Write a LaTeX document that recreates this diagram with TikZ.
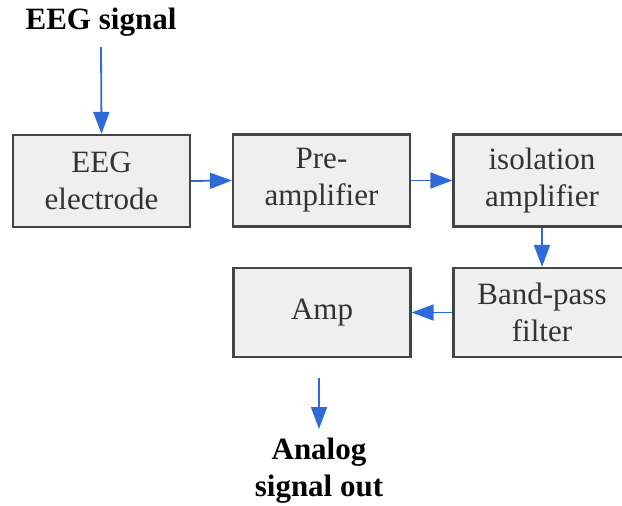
\documentclass[tikz,border=0pt]{standalone}
\usepackage{fontspec}
\setmainfont{LiberationSerif}[Extension=.ttf,UprightFont=*-Regular,BoldFont=*-Bold,ItalicFont=*-Italic,BoldItalicFont=*-BoldItalic]
\usetikzlibrary{arrows.meta}
\definecolor{arrblue}{HTML}{2E6BD6}
\definecolor{boxfill}{HTML}{EFEFEF}
\definecolor{boxdraw}{HTML}{454545}
\definecolor{txt}{HTML}{333333}
\begin{document}
\begin{tikzpicture}[x=1pt,y=1pt,
  blk/.style={draw=boxdraw,fill=boxfill,line width=2.2pt,minimum width=177pt,minimum height=92pt,inner sep=0pt,align=center,text=txt,font=\fontsize{31}{37}\selectfont},
  lbl/.style={align=center,font=\bfseries\fontsize{31}{37}\selectfont,text=black},
  arr/.style={draw=arrblue,line width=1.8pt,-{Triangle[length=22pt,width=16pt]},arrblue}]
\useasboundingbox (0,0) rectangle (622,-506);
\clip (0,0) rectangle (622,-506);
\node[lbl] (sig) at (101,-22) {EEG signal};
\node[blk] (ele) at (101.5,-181) {EEG\\electrode};
\node[blk] (pre) at (321.5,-180.5) {Pre-\\amplifier};
\node[blk] (iso) at (542,-180.5) {isolation\\amplifier};
\node[blk,minimum height=89pt] (bp) at (542,-312.5) {Band-pass\\filter};
\node[blk,minimum height=89pt] (amp) at (322,-312.5) {Amp};
\node[lbl] (out) at (319,-471) {Analog\\signal out};
\coordinate (s1) at (101,-47);
\coordinate (o1) at (319,-378);
\coordinate (o2) at (319,-429);
\draw[arr] (s1) -- (ele.north);
\draw[arr] (ele.east) -- (pre.west);
\draw[arr] (pre.east) -- (iso.west);
\draw[arr] (iso.south) -- (bp.north);
\draw[arr] (bp.west) -- (amp.east);
\draw[arr] (o1) -- (o2);
\end{tikzpicture}
\end{document}
